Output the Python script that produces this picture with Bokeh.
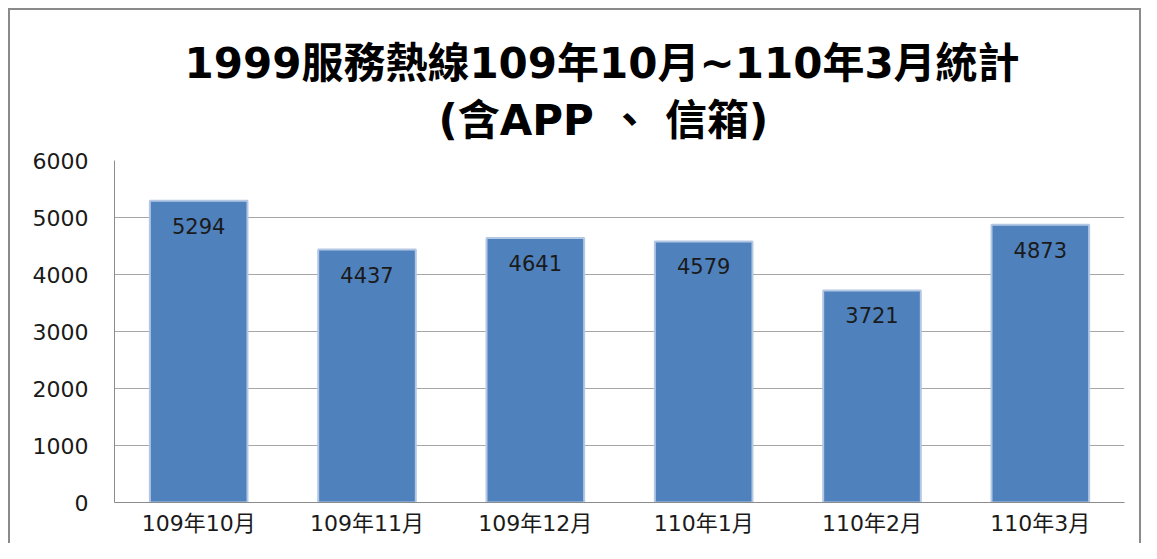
from bokeh.plotting import figure
from bokeh.models import Title, FixedTicker, ColumnDataSource
from bokeh.core.properties import value
from bokeh.embed import file_html
from bokeh.resources import INLINE

categories = ["109年10月", "109年11月", "109年12月", "110年1月", "110年2月", "110年3月"]
counts = [5294, 4437, 4641, 4579, 3721, 4873]
y_ticks = [0, 1000, 2000, 3000, 4000, 5000, 6000]
title_line1 = "1999服務熱線109年10月~110年3月統計"
title_line2 = "(含APP 、 信箱)"

FONT = "DejaVu Sans, Noto Sans CJK TC"

source = ColumnDataSource(dict(cat=categories, val=counts, lab=[str(v) for v in counts]))

p = figure(
    x_range=categories, y_range=(0, 6000),
    width=1141, height=543,
    output_backend="svg", toolbar_location=None,
    min_border_left=114, min_border_right=17, min_border_top=160, min_border_bottom=41,
    background_fill_color="white", border_fill_color="white", border_fill_alpha=0.0,
    outline_line_color=None,
    styles={
        "background-color": "white",
        "box-shadow": "inset 8px 8px 0 0 white, inset 10px 10px 0 0 #8a8a8a, inset -2px 0 0 0 #8a8a8a",
    },
)

p.add_layout(Title(text=title_line2, align="left", text_font_size="42px",
                   text_font=FONT, text_font_style="bold", text_color="black",
                   standoff=31, offset=324), "above")
p.add_layout(Title(text=title_line1, align="left", text_font_size="42px",
                   text_font=FONT, text_font_style="bold", text_color="black",
                   standoff=-19, offset=70), "above")

p.vbar(x="cat", top="val", width=0.58, source=source,
       fill_color="#4F81BD", line_color="#B4C8E4", line_width=2)

p.text(x="cat", y="val", text="lab", source=source, text_align="center",
       text_baseline="middle", y_offset=25, text_font_size="21px",
       text_font=value(FONT), text_color="#1a1a1a")

p.yaxis.ticker = FixedTicker(ticks=y_ticks)
p.yaxis.major_tick_line_color = None
p.yaxis.minor_tick_line_color = None
p.yaxis.axis_line_color = "#8c8c8c"
p.yaxis.major_label_text_font_size = "22px"
p.yaxis.major_label_text_font = FONT
p.yaxis.major_label_text_color = "#1a1a1a"
p.yaxis.major_label_standoff = 20

p.xaxis.major_tick_line_color = None
p.xaxis.minor_tick_line_color = None
p.xaxis.major_tick_out = 0
p.xaxis.axis_line_color = "#8c8c8c"
p.xaxis.major_label_text_font_size = "22px"
p.xaxis.major_label_text_font = FONT
p.xaxis.major_label_text_color = "#1a1a1a"
p.xaxis.major_label_standoff = 8

p.xgrid.grid_line_color = None
p.ygrid.grid_line_color = "#a6a6a6"
p.ygrid.grid_line_width = 1
p.x_range.range_padding = 0

open("out.html", "w").write(file_html(p, INLINE))
